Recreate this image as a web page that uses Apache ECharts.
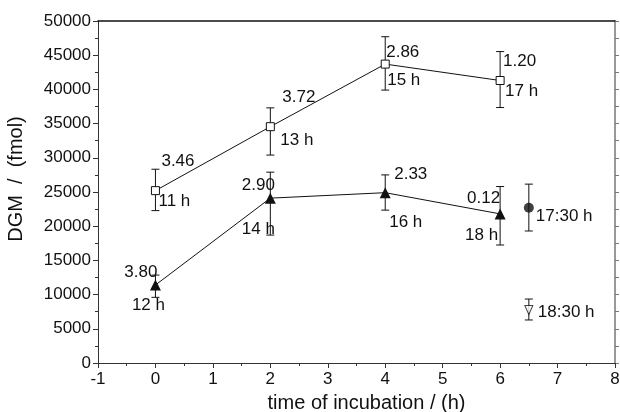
<!DOCTYPE html>
<html>
<head>
<meta charset="utf-8">
<script src="https://cdn.jsdelivr.net/npm/echarts@6/dist/echarts.min.js"></script>
<style>html,body{margin:0;padding:0;background:#fff}#c{width:620px;height:412px}</style>
</head>
<body>
<div id="c"></div>
<script>
// ---- data ----
const xTicks = [-1, 0, 1, 2, 3, 4, 5, 6, 7, 8];
const squareX = [0, 2, 4, 6];
const squareY = [25200, 34550, 43700, 41300];
const squareErrUp = [3130, 2750, 4000, 4230];
const squareErrDown = [2920, 4150, 3800, 3950];
const squareRates = ['3.46', '3.72', '2.86', '1.20'];
const squareTimes = ['11 h', '13 h', '15 h', '17 h'];

const triX = [0, 2, 4, 6];
const triY = [11400, 24100, 24900, 21800];
const triErrUp = [1450, 3800, 2600, 4000];
const triErrDown = [1800, 5400, 2550, 4550];
const triRates = ['3.80', '2.90', '2.33', '0.12'];
const triTimes = ['12 h', '14 h', '16 h', '18 h'];

const circleX = [6.5];
const circleY = [22700];
const circleErrUp = [3450];
const circleErrDown = [3400];
const circleTimes = ['17:30 h'];

const invTriX = [6.5];
const invTriY = [7750];
const invTriErrUp = [1600];
const invTriErrDown = [1460];
const invTriTimes = ['18:30 h'];

// ---- label layout (pixel offsets from each point) ----
const FONT = '"Liberation Sans", Arial, sans-serif';
const squareRateLayout = [[6, -29, 'left'], [12, -29, 'left'], [1, -12, 'left'], [3, -19, 'left']];
const squareTimeLayout = [[3, 11, 'left'], [10, 14, 'left'], [2, 16, 'left'], [5, 11, 'left']];
const triRateLayout = [[2, -13, 'right'], [-12, -13, 'center'], [9, -18, 'left'], [0, -16, 'right']];
const triTimeLayout = [[-7, 20, 'center'], [-12, 31, 'center'], [4, 30, 'left'], [-2, 21, 'right']];
const circleLayout = [[7, 9, 'left']];
const invTriLayout = [[9, 2, 'left']];

function errData(xs, ys, up, down) {
  return xs.map((x, i) => [x, ys[i], ys[i] + up[i], ys[i] - down[i]]);
}
const allErr = [].concat(
  errData(squareX, squareY, squareErrUp, squareErrDown),
  errData(triX, triY, triErrUp, triErrDown),
  errData(circleX, circleY, circleErrUp, circleErrDown),
  errData(invTriX, invTriY, invTriErrUp, invTriErrDown)
);

function labelItems(xs, ys, texts, layout) {
  return xs.map((x, i) => [x, ys[i], texts[i], layout[i][0], layout[i][1], layout[i][2]]);
}
const allLabels = [].concat(
  labelItems(squareX, squareY, squareRates, squareRateLayout),
  labelItems(squareX, squareY, squareTimes, squareTimeLayout),
  labelItems(triX, triY, triRates, triRateLayout),
  labelItems(triX, triY, triTimes, triTimeLayout),
  labelItems(circleX, circleY, circleTimes, circleLayout),
  labelItems(invTriX, invTriY, invTriTimes, invTriLayout)
);

const chart = echarts.init(document.getElementById('c'), null, {renderer: 'canvas'});
const axisCol = '#333';
chart.setOption({
  animation: false,
  grid: {left: 98, right: 5, top: 21, bottom: 49, containLabel: false, outerBoundsMode: 'none'},
  xAxis: [{
    type: 'value', min: xTicks[0], max: xTicks[xTicks.length - 1], interval: 1,
    name: 'time of incubation / (h)', nameLocation: 'middle', nameGap: 30,
    nameTextStyle: {fontSize: 20, color: '#111', fontFamily: FONT, padding: [0, 0, 0, 20]},
    axisLine: {show: true, onZero: false, lineStyle: {color: axisCol, width: 1}},
    axisTick: {show: true, length: 5, lineStyle: {color: axisCol}},
    minorTick: {show: true, splitNumber: 2, length: 3, lineStyle: {color: axisCol}},
    axisLabel: {fontSize: 17, color: '#111', fontFamily: FONT, margin: 8},
    splitLine: {show: false}
  }, {
    type: 'value', position: 'top', min: -1, max: 8, interval: 1,
    axisLine: {show: true, onZero: false, lineStyle: {color: '#111', width: 1.5}},
    axisTick: {show: false}, axisLabel: {show: false}, splitLine: {show: false}
  }],
  yAxis: [{
    type: 'value', min: 0, max: 50000, interval: 5000,
    name: 'DGM  /  (fmol)', nameLocation: 'middle', nameGap: 72,
    nameTextStyle: {fontSize: 20, color: '#111', fontFamily: FONT, padding: [0, 0, 0, 26]},
    axisLine: {show: true, onZero: false, lineStyle: {color: axisCol, width: 1}},
    axisTick: {show: true, length: 5, lineStyle: {color: axisCol}},
    minorTick: {show: true, splitNumber: 2, length: 3, lineStyle: {color: axisCol}},
    axisLabel: {fontSize: 17, color: '#111', fontFamily: FONT, margin: 7,
      formatter: function (v) { return String(v); }},
    splitLine: {show: false}
  }, {
    type: 'value', position: 'right', min: 0, max: 50000, interval: 2500,
    axisLine: {show: true, onZero: false, lineStyle: {color: '#999', width: 2}},
    axisTick: {show: true, length: 4, inside: false, lineStyle: {color: '#777'}},
    axisLabel: {show: false}, splitLine: {show: false}
  }],
  series: [
    {
      type: 'custom', z: 1, xAxisIndex: 0, yAxisIndex: 0,
      data: allErr,
      renderItem: function (params, api) {
        const x = api.value(0);
        const top = api.coord([x, api.value(2)]);
        const bot = api.coord([x, api.value(3)]);
        const hw = 4;
        const st = {stroke: '#111', lineWidth: 1};
        return {type: 'group', children: [
          {type: 'line', shape: {x1: top[0], y1: top[1], x2: bot[0], y2: bot[1]}, style: st},
          {type: 'line', shape: {x1: top[0] - hw, y1: top[1], x2: top[0] + hw, y2: top[1]}, style: st},
          {type: 'line', shape: {x1: bot[0] - hw, y1: bot[1], x2: bot[0] + hw, y2: bot[1]}, style: st}
        ]};
      }
    },
    {
      type: 'line', z: 3, data: squareX.map((x, i) => [x, squareY[i]]),
      symbol: 'rect', symbolSize: 8,
      itemStyle: {color: '#fff', borderColor: '#111', borderWidth: 1},
      lineStyle: {color: '#111', width: 1}
    },
    {
      type: 'line', z: 3, data: triX.map((x, i) => [x, triY[i]]),
      symbol: 'triangle', symbolSize: 11,
      itemStyle: {color: '#111', borderColor: '#111', borderWidth: 0},
      lineStyle: {color: '#111', width: 1}
    },
    {
      type: 'scatter', z: 3, data: circleX.map((x, i) => [x, circleY[i]]),
      symbol: 'circle', symbolSize: 10,
      itemStyle: {color: '#111'}
    },
    {
      type: 'scatter', z: 3, data: invTriX.map((x, i) => [x, invTriY[i]]),
      symbol: 'path://M0,0 L10,0 L5,10 Z', symbolSize: [8, 9],
      itemStyle: {color: '#fff', borderColor: '#111', borderWidth: 1}
    },
    {
      type: 'custom', z: 4, data: allLabels,
      renderItem: function (params, api) {
        const p = api.coord([api.value(0), api.value(1)]);
        const d = allLabels[params.dataIndex];
        return {type: 'text', x: p[0] + d[3], y: p[1] + d[4], style: {
          text: d[2], fill: '#111', fontSize: 17, fontFamily: FONT,
          align: d[5], verticalAlign: 'middle'
        }};
      }
    }
  ]
});
</script>
</body>
</html>
